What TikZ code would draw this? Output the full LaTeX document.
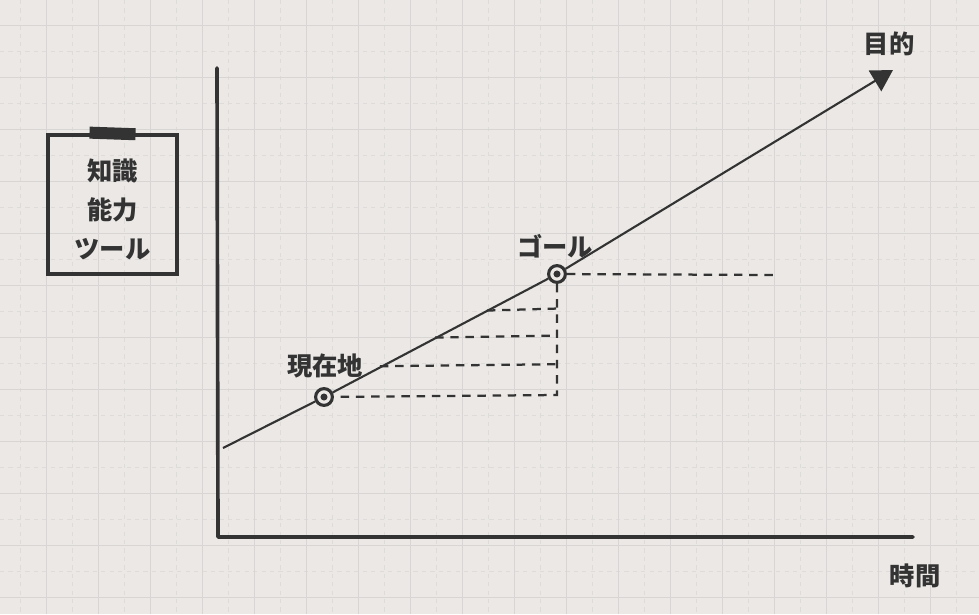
\documentclass[tikz,border=0pt]{standalone}
\usepackage{fontspec}
\newfontfamily\jpfont{Noto Sans CJK JP}
\usetikzlibrary{arrows.meta,positioning,calc}
\definecolor{ink}{HTML}{333333}
\definecolor{paper}{HTML}{EBE8E5}
\definecolor{gridline}{HTML}{D8D6D4}
\definecolor{gridfaint}{HTML}{DEDCDA}

\begin{document}
\begin{tikzpicture}[
    x=0.025cm, y=-0.025cm,
    word/.style={font=\jpfont\bfseries\fontsize{18}{27.5}\selectfont, text=ink, inner sep=0pt, align=center},
    axis/.style={ink, line width=2.6pt, line cap=round, line join=round},
    trend/.style={ink, line width=1.5pt},
    guide/.style={ink, line width=1.6pt, dash pattern=on 6pt off 4.8pt},
    spot/.style={circle, draw=ink, fill=paper, line width=2.2pt, minimum size=0.42cm, inner sep=0pt},
    memo/.style={draw=ink, line width=2.2pt, minimum width=3.225cm, minimum height=3.475cm},
    tape/.style={fill=ink, minimum width=1.15cm, minimum height=0.3cm, inner sep=0pt}
]
\useasboundingbox (0,0) rectangle (979,614);
\fill[paper] (0,0) rectangle (979,614);

% grid
\foreach \x in {20.7,72.7,...,979}
    \draw[gridfaint, line width=0.6pt, dash pattern=on 3pt off 3pt] (\x,0) -- (\x,614);
\foreach \y in {51.7,103.7,...,614}
    \draw[gridfaint, line width=0.6pt, dash pattern=on 3pt off 3pt] (0,\y) -- (979,\y);
\foreach \x in {46.7,98.7,...,979}
    \draw[gridline, line width=0.8pt] (\x,0) -- (\x,614);
\foreach \y in {25.7,77.7,...,614}
    \draw[gridline, line width=0.8pt] (0,\y) -- (979,\y);

% axes
\coordinate (ytop) at (217,68);
\coordinate (origin) at (218,537);
\coordinate (xend) at (913,537);
\draw[axis] (ytop) -- (origin) -- (xend);
\node[word] (time) at (915,576) {時間};

% memo
\node[memo] (memo) at (112.5,204.5) {};
\node[word] (skills) at ($(memo.center)+(0,5)$) {知識\\能力\\ツール};
\node[tape, rotate=-2] (clip) at (memo.north) {};

% trend line
\coordinate (start) at (223,448);
\node[spot] (now) at (324,397) {};
\node[spot] (goal) at (557,274) {};
\coordinate (aim) at (893,70);

\coordinate (floor) at (557,395);
\coordinate (tail) at (777,275);
\coordinate (g1) at ($(start)!0.47!(goal)$);
\coordinate (g2) at ($(start)!0.635!(goal)$);
\coordinate (g3) at ($(start)!0.79!(goal)$);

\draw[guide] (goal) -- (tail);
\draw[guide] (goal) -- (floor) -- (now);
\draw[guide] (g1) -- ($(g1 -| floor)+(0,-2)$);
\draw[guide] (g2) -- ($(g2 -| floor)+(0,-2)$);
\draw[guide] (g3) -- ($(g3 -| floor)+(0,-2)$);

\draw[trend, -{Triangle[length=15pt,width=17pt]}] (start) -- (now) -- (goal) -- (aim);
\fill[ink] (now) circle (2.5pt);
\fill[ink] (goal) circle (2.5pt);

\node[word] (nowlbl) at (325,366) {現在地};
\node[word] (goallbl) at (555,246) {ゴール};
\node[word] (aimlbl) at (889,44) {目的};
\end{tikzpicture}
\end{document}
